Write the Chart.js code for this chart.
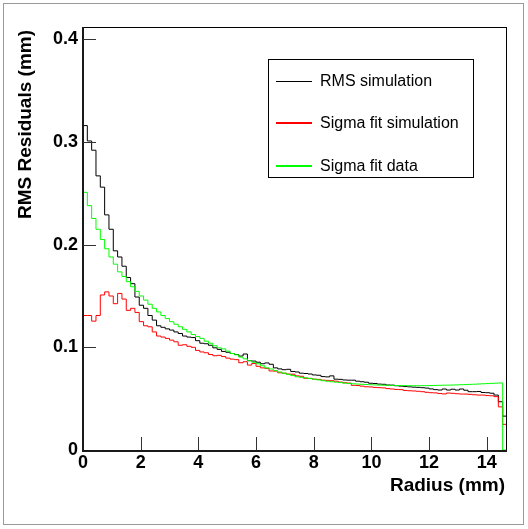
<!DOCTYPE html>
<html>
<head>
<meta charset="utf-8">
<script src="https://cdn.jsdelivr.net/npm/chart.js@4.4.1/dist/chart.umd.min.js"></script>
<style>
    html, body { margin: 0; padding: 0; background: #fff; }
</style>
</head>
<body>
<canvas id="chartResiduals" width="528" height="529"></canvas>
<script>
(function () {
    'use strict';

    // histogram binning: 98 bins of 0.15 mm from 0 to 14.7 mm
    var xMin = 0;
    var xMax = 14.7;
    var nBins = 98;
    var yMax = 0.412;
    var xTicks = [0, 2, 4, 6, 8, 10, 12, 14];
    var yTicks = [0, 0.1, 0.2, 0.3, 0.4];
    var yTickLabels = ['0', '0.1', '0.2', '0.3', '0.4'];
    var seriesLabels = ['RMS simulation', 'Sigma fit simulation', 'Sigma fit data'];

    var rmsSim = [
        0.316, 0.301, 0.292, 0.267, 0.256, 0.229, 0.215, 0.194, 0.188, 0.179,
        0.168, 0.162, 0.149, 0.141, 0.138, 0.131, 0.1265, 0.121, 0.1195, 0.118,
        0.1168, 0.115, 0.1135, 0.111, 0.110, 0.1095, 0.1065, 0.104, 0.1035, 0.102,
        0.0995, 0.098, 0.096, 0.0952, 0.094, 0.093, 0.0915, 0.0935, 0.087, 0.0866,
        0.0855, 0.084, 0.0848, 0.0835, 0.080, 0.079, 0.0782, 0.0786, 0.0765, 0.076,
        0.0748, 0.0745, 0.074, 0.0731, 0.0728, 0.0715, 0.0712, 0.0722, 0.069, 0.0688,
        0.0682, 0.068, 0.068, 0.067, 0.0665, 0.066, 0.065, 0.0648, 0.0642, 0.064,
        0.0633, 0.0632, 0.0626, 0.0622, 0.0618, 0.0615, 0.0612, 0.061, 0.0607, 0.0603,
        0.0595, 0.0588, 0.0584, 0.0594, 0.0584, 0.0592, 0.0584, 0.0594, 0.0582, 0.0568,
        0.0568, 0.057, 0.056, 0.0558, 0.0553, 0.0535, 0.047, 0.033
    ];

    var sigmaSim = [
        0.131, 0.131, 0.1255, 0.131, 0.151, 0.154, 0.150, 0.1425, 0.1525, 0.147,
        0.136, 0.138, 0.134, 0.125, 0.121, 0.120, 0.115, 0.111, 0.110, 0.1087,
        0.107, 0.1054, 0.102, 0.1025, 0.101, 0.100, 0.097, 0.0955, 0.0947, 0.093,
        0.0918, 0.0922, 0.091, 0.0895, 0.0885, 0.088, 0.085, 0.086, 0.0827, 0.0843,
        0.0815, 0.080, 0.0795, 0.077, 0.0768, 0.0752, 0.0748, 0.074, 0.0738, 0.0722,
        0.0718, 0.0698, 0.0698, 0.069, 0.0688, 0.068, 0.0678, 0.0675, 0.067, 0.0662,
        0.0655, 0.0652, 0.063, 0.0628, 0.0622, 0.0616, 0.0614, 0.061, 0.0607, 0.0605,
        0.0598, 0.0594, 0.059, 0.0588, 0.058, 0.0577, 0.0575, 0.0572, 0.0568, 0.0562,
        0.0558, 0.0556, 0.055, 0.0546, 0.0555, 0.0552, 0.0548, 0.0545, 0.0545, 0.0542,
        0.0538, 0.0535, 0.0535, 0.053, 0.0528, 0.052, 0.042, 0.025
    ];

    var sigmaData = [
        0.251, 0.238, 0.2255, 0.215, 0.205, 0.196, 0.188, 0.181, 0.1735, 0.169,
        0.164, 0.159, 0.1545, 0.150, 0.146, 0.142, 0.138, 0.1345, 0.131, 0.128,
        0.125, 0.1225, 0.120, 0.1175, 0.115, 0.1125, 0.1105, 0.1087, 0.106, 0.104,
        0.1015, 0.0995, 0.0985, 0.0963, 0.094, 0.0927, 0.0905, 0.0888, 0.087, 0.0855,
        0.084, 0.082, 0.080, 0.0789, 0.0773, 0.076, 0.0748, 0.0736, 0.0725, 0.0713,
        0.0708, 0.0703, 0.0696, 0.0689, 0.0683, 0.0675, 0.067, 0.0665, 0.0661, 0.0657,
        0.0651, 0.0648, 0.0645, 0.0642, 0.064, 0.0638, 0.0636, 0.0634, 0.0632, 0.0631,
        0.063, 0.0629, 0.0628, 0.0627, 0.0627, 0.0626, 0.0626, 0.0626, 0.0627, 0.0627,
        0.0628, 0.0629, 0.063, 0.0631, 0.0632, 0.0633, 0.0634, 0.0636, 0.0637, 0.0639,
        0.0641, 0.0643, 0.0645, 0.0647, 0.0649, 0.0651, 0.0653, 0
    ];

    var black = '#000000';
    var red = '#ff0000';
    var green = '#00ff00';
    var seriesColors = [black, red, green];
    var fontFamily = '"Liberation Sans", Arial, Helvetica, sans-serif';

    var binW = (xMax - xMin) / nBins;

    // each bin -> point at its low edge, plus a closing point at the upper edge
    function histPoints(values) {
        var pts = values.map(function (v, i) { return { x: xMin + i * binW, y: v }; });
        pts.push({ x: xMax, y: values[values.length - 1] });
        return pts;
    }

    var rootFrame = {
        id: 'rootFrame',
        afterDatasetsDraw: function (chart) {
            var ctx = chart.ctx;
            var a = chart.chartArea;
            var xs = chart.scales.x;
            var ys = chart.scales.y;
            ctx.save();

            // canvas border
            ctx.strokeStyle = '#9a9a9a';
            ctx.lineWidth = 1;
            ctx.strokeRect(3.5, 3.5, 520, 521);

            // frame
            ctx.strokeStyle = black;
            ctx.lineWidth = 1;
            ctx.beginPath();
            ctx.moveTo(a.left, Math.round(a.top) + 0.5);
            ctx.lineTo(a.right, Math.round(a.top) + 0.5);
            ctx.moveTo(Math.round(a.right) - 0.5, a.top);
            ctx.lineTo(Math.round(a.right) - 0.5, a.bottom);
            ctx.stroke();

            ctx.strokeStyle = '#1a1a1a';
            ctx.lineWidth = 2;
            ctx.beginPath();
            ctx.moveTo(a.left, a.top);
            ctx.lineTo(a.left, a.bottom + 1);
            ctx.lineTo(a.right, a.bottom + 1);
            ctx.stroke();

            // inward ticks
            ctx.strokeStyle = '#333';
            ctx.lineWidth = 1;
            ctx.beginPath();
            xs.ticks.forEach(function (t) {
                var px = Math.round(xs.getPixelForValue(t.value)) + 0.5;
                if (t.value === xMin) return;
                ctx.moveTo(px, a.bottom);
                ctx.lineTo(px, a.bottom - 13);
            });
            ys.ticks.forEach(function (t) {
                var py = Math.round(ys.getPixelForValue(t.value)) + 0.5;
                if (t.value === 0) return;
                ctx.moveTo(a.left, py);
                ctx.lineTo(a.left + 13, py);
            });
            ctx.stroke();

            // axis titles
            ctx.fillStyle = black;
            ctx.font = 'bold 19px ' + fontFamily;
            ctx.textAlign = 'right';
            ctx.textBaseline = 'alphabetic';
            ctx.fillText('Radius (mm)', a.right - 2, 491);
            ctx.save();
            ctx.translate(31, a.top + 3);
            ctx.rotate(-Math.PI / 2);
            ctx.fillText('RMS Residuals (mm)', 0, 0);
            ctx.restore();

            // legend box
            var lx = 268.5, ly = 59.5, lw = 205, lh = 118;
            ctx.fillStyle = '#fff';
            ctx.fillRect(lx, ly, lw, lh);
            ctx.strokeStyle = black;
            ctx.lineWidth = 1;
            ctx.strokeRect(lx, ly, lw, lh);
            ctx.font = '16px ' + fontFamily;
            ctx.textAlign = 'left';
            ctx.textBaseline = 'middle';
            seriesLabels.forEach(function (label, i) {
                var yy = Math.round(80.5 + i * 42.5);
                ctx.strokeStyle = seriesColors[i];
                ctx.lineWidth = i === 0 ? 1 : 2;
                ctx.beginPath();
                ctx.moveTo(276, i === 0 ? yy + 0.5 : yy);
                ctx.lineTo(312, i === 0 ? yy + 0.5 : yy);
                ctx.stroke();
                ctx.fillStyle = black;
                ctx.fillText(label, 320, yy + 1);
            });

            ctx.restore();
        }
    };

    var canvas = document.getElementById('chartResiduals');
    new Chart(canvas, {
        type: 'line',
        data: {
            datasets: [
                { label: seriesLabels[0], data: histPoints(rmsSim), borderColor: seriesColors[0], order: 2 },
                { label: seriesLabels[1], data: histPoints(sigmaSim), borderColor: seriesColors[1], order: 1 },
                { label: seriesLabels[2], data: histPoints(sigmaData), borderColor: seriesColors[2], order: 0 },
            ],
        },
        options: {
            responsive: false,
            animation: false,
            layout: { padding: { left: 0, top: 27, right: 21, bottom: 39 } },
            plugins: { legend: { display: false }, tooltip: { enabled: false } },
            elements: {
                point: { radius: 0 },
                line: { borderWidth: 1, stepped: 'before', tension: 0, fill: false },
            },
            scales: {
                x: {
                    type: 'linear',
                    min: xMin,
                    max: xMax,
                    grid: { display: false, drawTicks: false },
                    border: { display: false },
                    afterBuildTicks: function (s) { s.ticks = xTicks.map(function (v) { return { value: v }; }); },
                    afterFit: function (s) { s.height = 40; },
                    ticks: {
                        color: black,
                        padding: 2,
                        autoSkip: false,
                        maxRotation: 0,
                        font: { family: fontFamily, size: 18, weight: 'bold' },
                        callback: function (v) { return String(v); },
                    },
                },
                y: {
                    type: 'linear',
                    min: 0,
                    max: yMax,
                    grid: { display: false, drawTicks: false },
                    border: { display: false },
                    afterBuildTicks: function (s) { s.ticks = yTicks.map(function (v) { return { value: v }; }); },
                    afterFit: function (s) { s.width = 83; },
                    ticks: {
                        color: black,
                        padding: 5,
                        font: { family: fontFamily, size: 18, weight: 'bold' },
                        callback: function (v) { return yTickLabels[yTicks.indexOf(v)]; },
                    },
                },
            },
        },
        plugins: [rootFrame],
    });
})();
</script>
</body>
</html>
